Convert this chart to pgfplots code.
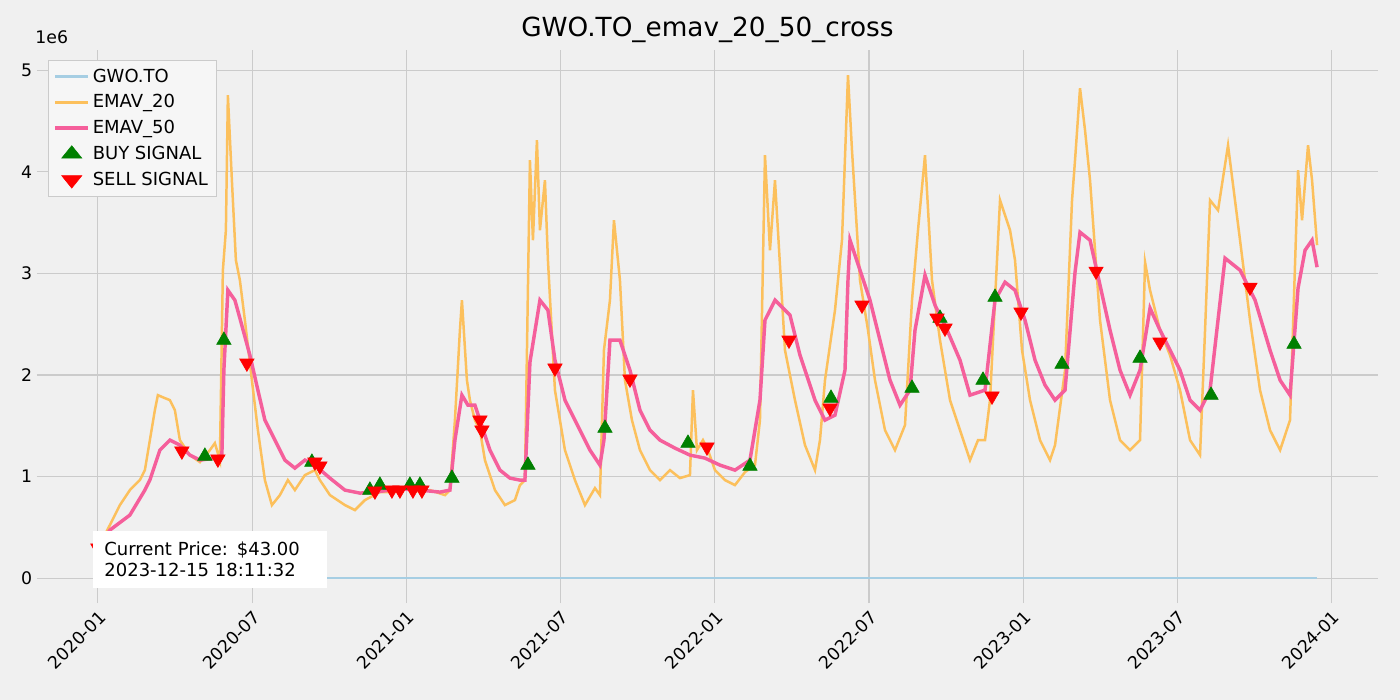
\documentclass[border=0pt]{standalone}
\usepackage{pgfplots}
\pgfplotsset{compat=1.18}
\usepackage{fontspec}
\setmainfont{DejaVu Sans}
\definecolor{bg}{RGB}{240,240,240}
\definecolor{gridc}{RGB}{203,203,203}
\definecolor{oran}{RGB}{252,192,92}
\definecolor{pinkc}{RGB}{245,95,155}
\definecolor{lblue}{RGB}{166,206,227}
\definecolor{gr}{RGB}{0,128,0}
\begin{document}
\begin{tikzpicture}[x=1bp,y=1bp]
\fill[bg] (0,0) rectangle (1008,504);
\begin{axis}[at={(26.6bp,69.8bp)},anchor=south west,scale only axis,
 width=965.5bp,height=398bp,
 xmin=-2.37,xmax=49.8,ymin=-0.246,ymax=5.197,
 x filter/.expression={(x-98)/25.7}, y filter/.expression={(578-y)/101.6},
 axis line style={draw=none}, tick style={draw=none},
 grid=major, grid style={gridc,line width=0.8pt},
 xtick={0,6,12,18,24,30,36,42,48},
 xticklabels={2020-01,2020-07,2021-01,2021-07,2022-01,2022-07,2023-01,2023-07,2024-01},
 xticklabel style={rotate=45,anchor=north east,font=\fontsize{12.5}{14}\selectfont},
 ytick={0,1,2,3,4,5},
 yticklabel style={font=\fontsize{12.5}{14}\selectfont},
 /pgf/number format/assume math mode=true,
 title={GWO.TO\_emav\_20\_50\_cross},
 title style={font=\fontsize{19}{22}\selectfont,yshift=-4bp},
 legend style={at={(0.008,0.982)},anchor=north west,fill=bg!60!white,draw=gridc,
   font=\fontsize{13}{15}\selectfont,row sep=3.5bp,inner xsep=4bp,inner ysep=4bp},
 legend image post style={xscale=1.4},
 legend cell align=left,
]
\addplot[lblue,line width=1.5pt] coordinates {(98,578)(1317,578)};
\addlegendentry{GWO.TO}
\addplot[oran,line width=1.8pt] coordinates {
(98,548)(110,525)(120,505)(130,490)(140,480)(145,470)(150,440)(155,410)(158,395)(165,398)(170,400)(175,410)(180,440)(190,455)(200,462)(210,450)(215,443)(220,460)(223,270)(226,230)(228,95)(232,180)(236,260)(240,280)(245,320)(252,380)(258,430)(265,480)(272,505)(280,495)(288,480)(295,490)(305,475)(315,470)(320,480)(330,495)(345,505)(355,510)(365,500)(380,492)(395,492)(410,488)(420,492)(430,490)(445,495)(450,490)(455,420)(460,330)(462,300)(467,380)(470,400)(475,420)(480,430)(485,460)(495,490)(505,505)(515,500)(520,485)(525,480)(530,160)(533,240)(537,140)(540,230)(545,180)(548,260)(555,390)(565,450)(575,480)(585,505)(595,488)(600,495)(604,350)(610,300)(614,220)(620,280)(625,380)(632,420)(640,450)(650,470)(660,480)(670,470)(680,478)(690,475)(693,390)(697,450)(703,440)(708,450)(715,470)(725,480)(735,485)(745,472)(755,465)(760,420)(765,155)(770,250)(775,180)(785,350)(795,400)(805,445)(815,470)(820,440)(825,380)(835,310)(842,240)(848,75)(852,150)(860,280)(868,330)(875,380)(885,430)(895,450)(905,425)(912,300)(918,230)(925,155)(932,280)(940,340)(950,400)(960,430)(970,460)(978,440)(985,440)(990,400)(995,300)(1000,200)(1010,230)(1015,260)(1022,350)(1030,400)(1040,440)(1050,460)(1055,445)(1065,370)(1072,200)(1075,160)(1080,88)(1085,130)(1090,180)(1100,320)(1110,400)(1120,440)(1130,450)(1140,440)(1145,262)(1150,290)(1160,330)(1170,355)(1180,390)(1190,440)(1200,455)(1205,330)(1210,200)(1218,210)(1228,145)(1240,240)(1250,320)(1260,390)(1270,430)(1280,450)(1290,420)(1298,170)(1302,220)(1308,145)(1312,180)(1317,245)};
\addlegendentry{EMAV\_20}
\addplot[pinkc,line width=2.5pt] coordinates {
(98,548)(110,530)(130,515)(145,490)(150,480)(160,450)(170,440)(180,445)(190,455)(200,460)(215,458)(222,455)(224,370)(228,290)(235,300)(240,318)(250,355)(258,390)(265,420)(275,440)(285,460)(295,468)(305,460)(315,465)(330,478)(345,490)(360,493)(375,492)(390,490)(405,489)(420,490)(440,492)(450,490)(455,440)(462,395)(468,405)(475,405)(480,420)(490,450)(500,470)(510,478)(520,480)(525,480)(530,362)(540,300)(548,310)(555,360)(565,400)(575,420)(590,450)(600,465)(604,440)(610,340)(620,340)(630,370)(640,410)(650,430)(660,440)(675,448)(690,455)(705,458)(720,465)(735,470)(750,460)(760,400)(765,320)(775,300)(790,315)(800,355)(815,400)(825,420)(835,415)(845,370)(848,280)(850,240)(860,270)(870,300)(880,340)(890,380)(900,405)(910,390)(915,330)(925,275)(935,305)(945,325)(960,360)(970,395)(985,390)(995,300)(1005,282)(1015,290)(1025,320)(1035,360)(1045,385)(1055,400)(1065,390)(1075,272)(1080,232)(1090,240)(1100,285)(1110,330)(1120,370)(1130,395)(1140,370)(1150,308)(1160,330)(1170,350)(1180,370)(1190,400)(1200,410)(1210,390)(1225,258)(1240,270)(1255,300)(1270,350)(1280,380)(1290,395)(1298,288)(1305,250)(1312,240)(1317,267)};
\addlegendentry{EMAV\_50}
\addplot[only marks,mark=triangle*,mark size=6pt,color=gr] coordinates {
(205,456)(224,340)(312,462)(370,490)(380,485)(410,485)(420,485)(452,478)(528,465)(605,428)(688,443)(750,466)(831,398)(912,388)(940,318)(983,380)(995,297)(1062,364)(1140,358)(1211,395)(1294,344)};
\addlegendentry{BUY SIGNAL}
\addplot[only marks,mark=triangle*,mark options={rotate=180},mark size=6pt,color=red] coordinates {
(98,548)(182,451)(218,459)(247,363)(315,462)(320,466)(375,491)(392,490)(400,490)(413,490)(422,490)(480,420)(482,430)(555,368)(630,379)(707,447)(789,340)(830,408)(862,305)(937,318)(945,328)(992,396)(1021,312)(1096,271)(1160,342)(1250,287)};
\addlegendentry{SELL SIGNAL}
\end{axis}
\node[font=\fontsize{12.5}{14}\selectfont,anchor=south west] at (22,469) {1e6};
\node[fill=white,anchor=south west,align=left,font=\fontsize{13}{15}\selectfont,inner xsep=8bp,inner ysep=8bp,text width=152bp] at (67,80.6) {Current Price: \$43.00\\2023-12-15 18:11:32};
\end{tikzpicture}
\end{document}
